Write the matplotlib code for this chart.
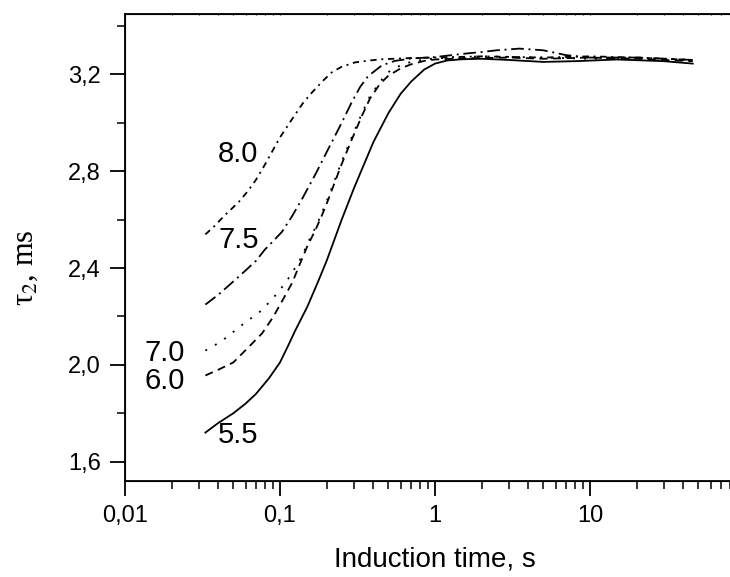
#τ2 vs induction time, several pH curves

import numpy as np
import matplotlib
matplotlib.use("Agg")
import matplotlib.pyplot as plt

plt.rcParams['font.family'] = ['Liberation Sans', 'DejaVu Sans']
plt.rcParams['mathtext.fontset'] = 'stix'

# curve 5.5 (solid)
x55 = [0.033, 0.04, 0.05, 0.06, 0.07, 0.085, 0.1, 0.113, 0.125, 0.15, 0.175, 0.2, 0.25, 0.3,
       0.4, 0.5, 0.6, 0.7, 0.85, 1, 1.2, 1.5, 2, 3, 5, 8, 15, 30, 46]
y55 = [1.72, 1.76, 1.80, 1.84, 1.88, 1.945, 2.01, 2.08, 2.14, 2.24, 2.34, 2.43, 2.60, 2.73,
       2.92, 3.04, 3.12, 3.17, 3.22, 3.245, 3.258, 3.263, 3.265, 3.26, 3.252, 3.255, 3.262,
       3.255, 3.245]

# curve 6.0 (dashed)
x60 = [0.033, 0.04, 0.05, 0.062, 0.0766, 0.09, 0.1045, 0.12, 0.135, 0.15, 0.17, 0.187, 0.204,
       0.25, 0.29, 0.338, 0.38, 0.44, 0.5, 0.6, 0.7, 0.85, 1, 1.5, 2, 3, 5, 10, 20, 46]
y60 = [1.956, 1.98, 2.01, 2.07, 2.13, 2.196, 2.27, 2.34, 2.42, 2.49, 2.56, 2.62, 2.68, 2.83,
       2.93, 3.03, 3.10, 3.16, 3.195, 3.225, 3.242, 3.256, 3.262, 3.267, 3.268, 3.27, 3.265,
       3.27, 3.265, 3.255]

# curve 7.0 (dotted)
x70 = [0.033, 0.04, 0.046, 0.054, 0.0643, 0.0743, 0.0887, 0.1, 0.1127, 0.125, 0.139, 0.15,
       0.17, 0.187, 0.204, 0.25, 0.29, 0.338, 0.38, 0.455, 0.5, 0.6, 0.7, 0.85, 1, 1.5, 2, 5,
       10, 20, 46]
y70 = [2.059, 2.09, 2.117, 2.154, 2.19, 2.22, 2.27, 2.31, 2.355, 2.40, 2.45, 2.50, 2.57, 2.63,
       2.69, 2.84, 2.94, 3.04, 3.11, 3.18, 3.21, 3.238, 3.252, 3.262, 3.266, 3.272, 3.275,
       3.27, 3.265, 3.27, 3.26]

# curve 7.5 (dash-dot)
x75 = [0.033, 0.04, 0.046, 0.059, 0.07, 0.08, 0.09, 0.103, 0.1195, 0.14, 0.17, 0.204, 0.25,
       0.29, 0.33, 0.37, 0.455, 0.55, 0.7, 1, 1.5, 2, 2.5, 3.5, 5, 7, 10, 20, 46]
y75 = [2.249, 2.29, 2.324, 2.386, 2.43, 2.477, 2.51, 2.55, 2.614, 2.69, 2.79, 2.89, 3.00,
       3.085, 3.15, 3.193, 3.238, 3.256, 3.266, 3.272, 3.285, 3.293, 3.30, 3.307, 3.30, 3.28,
       3.27, 3.27, 3.26]

# curve 8.0 (dash-dot-dot)
x80 = [0.033, 0.038, 0.044, 0.054, 0.062, 0.07, 0.0787, 0.0887, 0.1, 0.1195, 0.14, 0.161,
       0.19, 0.216, 0.25, 0.305, 0.38, 0.455, 0.7, 1, 2, 5, 10, 20, 46]
y80 = [2.539, 2.575, 2.618, 2.672, 2.718, 2.765, 2.82, 2.88, 2.94, 3.015, 3.08, 3.126, 3.175,
       3.209, 3.232, 3.25, 3.258, 3.263, 3.268, 3.27, 3.275, 3.27, 3.275, 3.27, 3.26]

labels = ['8.0', '7.5', '7.0', '6.0', '5.5']
lab_x = [0.0536, 0.0544, 0.0179, 0.0179, 0.0536]
lab_y = [2.837, 2.485, 2.014, 1.902, 1.679]

yticks = [1.6, 2.0, 2.4, 2.8, 3.2]
yticklabels = ['1,6', '2,0', '2,4', '2,8', '3,2']
xticks = [0.01, 0.1, 1, 10]
xticklabels = ['0,01', '0,1', '1', '10']

fig = plt.figure(figsize=(7.3, 5.77), dpi=100)
ax = fig.add_axes([125/730, 96/577, 620/730, 467/577])

lw = 1.3
ax.plot(x55, y55, color='black', lw=lw, linestyle='-')
ax.plot(x60, y60, color='black', lw=lw, linestyle=(0, (4.5, 3)))
ax.plot(x70, y70, color='black', lw=lw, linestyle=(0, (1.1, 5)))
ax.plot(x75, y75, color='black', lw=lw, linestyle=(0, (7, 2.6, 1.1, 2.6)))
ax.plot(x80, y80, color='black', lw=lw, linestyle=(0, (3.5, 2.6, 1.1, 2.6)))

for s, tx, ty in zip(labels, lab_x, lab_y):
    ax.text(tx, ty, s, fontsize=21, ha='center', va='baseline')

ax.set_xscale('log')
ax.set_xlim(0.01, 100)
ax.set_ylim(1.52, 3.45)
ax.set_xticks(xticks)
ax.set_xticklabels(xticklabels)
ax.set_yticks(yticks)
ax.set_yticklabels(yticklabels)
ax.set_yticks([1.8, 2.2, 2.6, 3.0, 3.4], minor=True)

for sp in ax.spines.values():
    sp.set_linewidth(1.3)
ax.tick_params(which='major', length=10.5, width=1.3, labelsize=17, pad=7, direction='out')
ax.tick_params(which='minor', length=5.5, width=1.1, direction='out')
ax.tick_params(axis='x', which='minor', labelbottom=False)

# tiny ticks on the top frame
ax2 = ax.twiny()
ax2.set_xscale('log')
ax2.set_xlim(ax.get_xlim())
ax2.tick_params(which='both', length=2, width=0.8, direction='inout', labeltop=False)

ax.set_xlabel('Induction time, s', fontsize=20, labelpad=14)
fig.text(25/730, 1 - 268/577, 'τ$_2$, ms', rotation=90, fontsize=22,
         family='Liberation Serif', ha='center', va='center')

plt.savefig('out.png', dpi=100)
